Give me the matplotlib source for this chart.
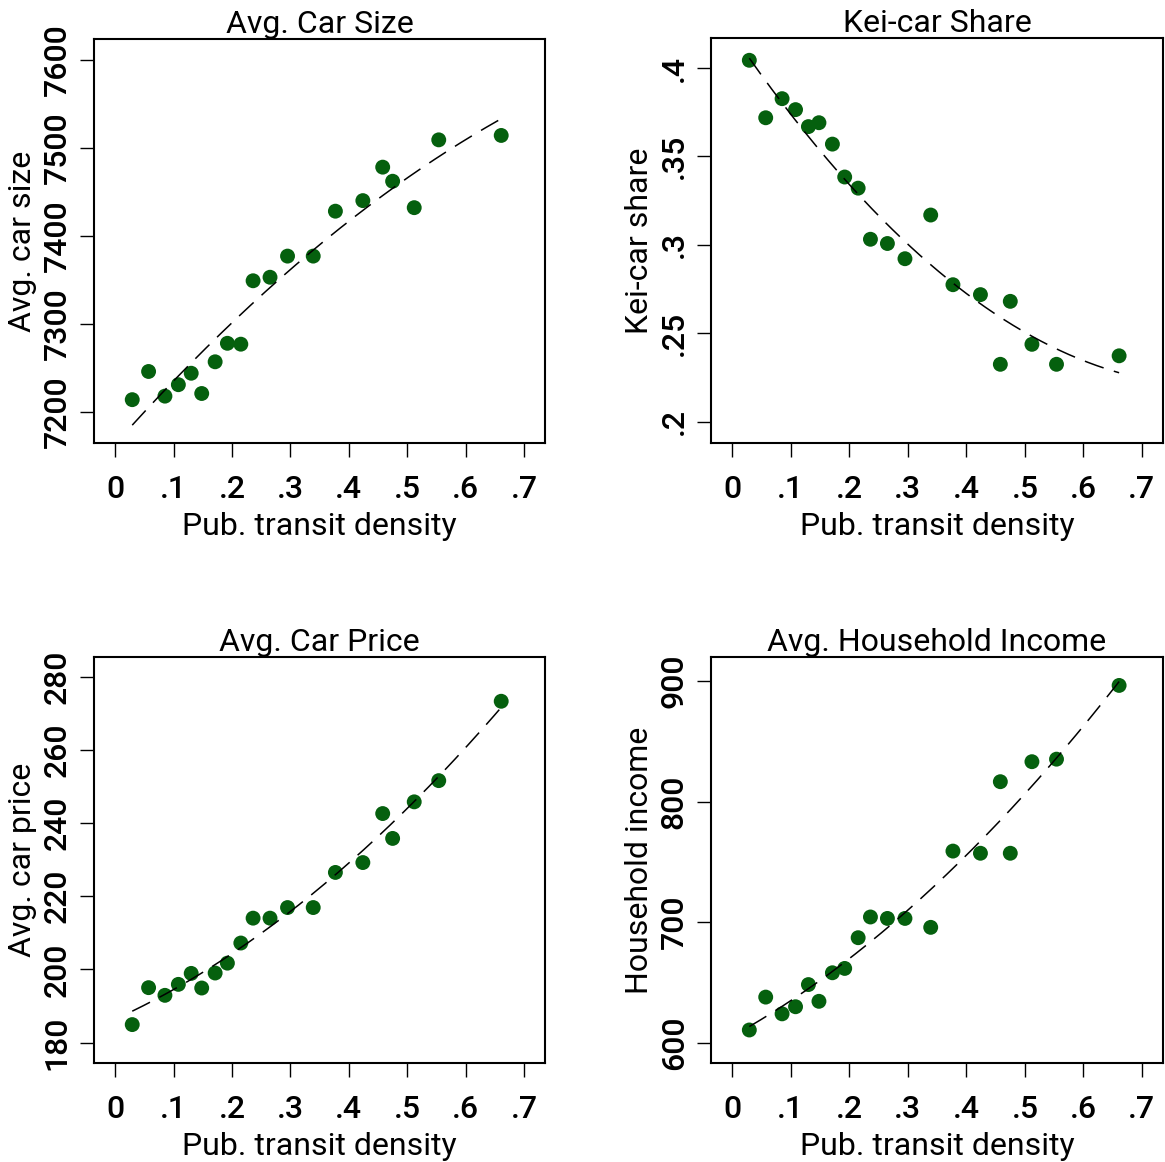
import numpy as np
import matplotlib
matplotlib.use("Agg")
import matplotlib.pyplot as plt

plt.rcParams['font.family'] = ['Roboto', 'DejaVu Sans']
plt.rcParams['font.weight'] = 'medium'

# x: public transit density (same 20 groups in every panel)
density = [0.029, 0.057, 0.085, 0.108, 0.130, 0.148, 0.171, 0.192, 0.215, 0.236,
           0.265, 0.295, 0.339, 0.377, 0.424, 0.458, 0.475, 0.512, 0.554, 0.661]

car_size = [7214, 7246, 7218, 7231, 7244, 7221, 7257, 7278, 7277, 7349,
            7353, 7377, 7377, 7428, 7440, 7478, 7462, 7432, 7509, 7514]

kei_share = [0.4044, 0.3719, 0.3827, 0.3765, 0.3669, 0.3691, 0.3570, 0.3384, 0.3321, 0.3032,
             0.3008, 0.2922, 0.3169, 0.2775, 0.2719, 0.2325, 0.2681, 0.2438, 0.2325, 0.2373]

car_price = [184.9, 195.0, 192.9, 195.9, 198.9, 194.9, 199.0, 201.7, 207.2, 214.0,
             214.0, 216.9, 216.9, 226.5, 229.2, 242.6, 235.8, 245.8, 251.6, 273.3]

income = [610.4, 637.7, 623.8, 629.7, 648.1, 634.2, 657.9, 661.5, 687.0, 704.2,
          703.0, 703.0, 695.6, 758.9, 757.1, 816.5, 757.1, 833.1, 835.2, 896.4]

x_ticks = [0, 0.1, 0.2, 0.3, 0.4, 0.5, 0.6, 0.7]
x_ticklabels = ['0', '.1', '.2', '.3', '.4', '.5', '.6', '.7']

panels = [
    # title, ylabel, y values, y ticks, y tick labels, ylim, axes rect (px)
    ("Avg. Car Size", "Avg. car size", car_size,
     [7200, 7300, 7400, 7500, 7600], ['7200', '7300', '7400', '7500', '7600'],
     (7164.8, 7623.5), [94, 39, 451, 404]),
    ("Kei-car Share", "Kei-car share", kei_share,
     [0.2, 0.25, 0.3, 0.35, 0.4], ['.2', '.25', '.3', '.35', '.4'],
     (0.188, 0.417), [711, 38, 452, 405]),
    ("Avg. Car Price", "Avg. car price", car_price,
     [180, 200, 220, 240, 260, 280], ['180', '200', '220', '240', '260', '280'],
     (174.4, 285.4), [94, 657, 451, 406]),
    ("Avg. Household Income", "Household income", income,
     [600, 700, 800, 900], ['600', '700', '800', '900'],
     (583, 920), [711, 657, 452, 406]),
]

W, H = 1165, 1162
fig = plt.figure(figsize=(W / 100, H / 100), dpi=100)
green = '#05600e'
fs = 23

for title, ylab, yv, yt, ytl, ylim, (px, py, pw, ph) in panels:
    ax = fig.add_axes([px / W, 1 - (py + ph) / H, pw / W, ph / H])
    x = np.array(density)
    y = np.array(yv)
    # quadratic fit, as in the original figure
    coef = np.polyfit(x, y, 2)
    xf = np.linspace(x.min(), x.max(), 200)
    ax.plot(xf, np.polyval(coef, xf), color='black', lw=1.1, dashes=(13, 7), zorder=3)
    ax.scatter(x, y, s=115, color=green, edgecolors='none', zorder=2)

    ax.set_xlim(-0.0365, 0.736)
    ax.set_ylim(*ylim)
    ax.set_xticks(x_ticks)
    ax.set_xticklabels(x_ticklabels)
    ax.set_yticks(yt)
    ax.set_yticklabels(ytl, rotation=90, va='center')

    ax.set_title(title, fontsize=fs, pad=4)
    ax.set_xlabel("Pub. transit density", fontsize=fs, labelpad=6)
    ax.set_ylabel(ylab, fontsize=fs, labelpad=4)
    ax.tick_params(axis='both', which='major', labelsize=fs, length=10, width=1.0, pad=6)
    ax.tick_params(axis='x', pad=13)
    for s in ax.spines.values():
        s.set_linewidth(1.5)

fig.savefig("out.png", dpi=100)
